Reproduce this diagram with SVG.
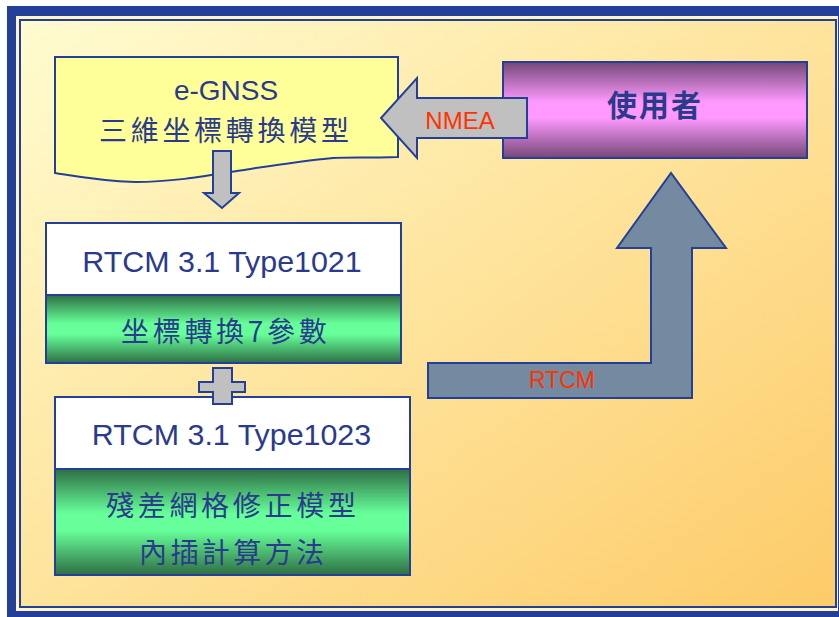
<svg xmlns="http://www.w3.org/2000/svg" width="839" height="617" viewBox="0 0 839 617">
<defs>
<linearGradient id="bg" x1="0" y1="0" x2="1" y2="1">
<stop offset="0" stop-color="#fffcd0"/>
<stop offset="1" stop-color="#fdcb68"/>
</linearGradient>
<linearGradient id="purple" x1="0" y1="0" x2="0" y2="1">
<stop offset="0" stop-color="#744878"/>
<stop offset="0.42" stop-color="#ff99ff"/>
<stop offset="0.58" stop-color="#ff99ff"/>
<stop offset="1" stop-color="#744878"/>
</linearGradient>
<linearGradient id="green" x1="0" y1="0" x2="0" y2="1">
<stop offset="0" stop-color="#2e6e44"/>
<stop offset="0.42" stop-color="#66ff99"/>
<stop offset="0.58" stop-color="#66ff99"/>
<stop offset="1" stop-color="#2e6e44"/>
</linearGradient>
<style>
.sh{stroke:#233f99;stroke-width:2;stroke-linejoin:miter}
.lat{font-family:"Liberation Sans",Arial,sans-serif;fill:#2a3a8c}
.cjk{font-family:"Noto Sans CJK TC","Noto Sans CJK SC",sans-serif;fill:#2a3a8c}
.red{font-family:"Liberation Sans",Arial,sans-serif;fill:#ff3300}
</style>
</defs>
<g id="frame">
<rect x="7" y="6" width="840" height="620" fill="#233f99"/>
<rect x="16" y="16" width="822" height="595" fill="#fff5c0"/>
<rect x="20" y="20" width="816" height="587" fill="url(#bg)" stroke="#233f99" stroke-width="2"/>
</g>
<g id="egnss">
<path class="sh" fill="#ffff99" d="M55,57 H398 V157 C365,158 350,157 333,158 C300,161 270,166 230,172 C200,177 170,182 135,182 C100,181 80,177 55,173 Z"/>
<text class="lat" x="226" y="100" font-size="28" text-anchor="middle">e-GNSS</text>
<text class="cjk" x="99" y="141" font-size="28" letter-spacing="3.7">三維坐標轉換模型</text>
</g>
<g id="user">
<rect class="sh" x="503" y="62" width="304" height="96" fill="url(#purple)"/>
<text class="cjk" x="607" y="116" font-size="30" font-weight="bold" letter-spacing="2">使用者</text>
</g>
<g id="type1021">
<rect class="sh" x="46" y="223" width="355" height="72" fill="#ffffff"/>
<rect class="sh" x="46" y="295" width="355" height="68" fill="url(#green)"/>
<text class="lat" x="222" y="272" font-size="30.4" text-anchor="middle">RTCM 3.1 Type1021</text>
<text class="cjk" x="121" y="342" font-size="28" letter-spacing="3.7">坐標轉換7參數</text>
</g>
<g id="type1023">
<rect class="sh" x="55" y="397" width="355" height="72" fill="#ffffff"/>
<rect class="sh" x="55" y="469" width="355" height="106" fill="url(#green)"/>
<text class="lat" x="231.5" y="445" font-size="30.4" text-anchor="middle">RTCM 3.1 Type1023</text>
<text class="cjk" x="106" y="516" font-size="28" letter-spacing="3.7">殘差網格修正模型</text>
<text class="cjk" x="139" y="563" font-size="28" letter-spacing="3.4">內插計算方法</text>
</g>
<g id="connectors">
<path class="sh" fill="#c0c0c0" d="M213,151 H231 V193 H239 L222,208 L204,193 H213 Z"/>
<path class="sh" fill="#c0c0c0" d="M527,98 V138 H417 V158 L381,118 L417,78 V98 Z"/>
<text class="red" x="460" y="129" font-size="24" text-anchor="middle">NMEA</text>
<path class="sh" fill="#c0c0c0" d="M213,368 H232 V382 H245 V392 H232 V404 H213 V392 H199 V382 H213 Z"/>
<path class="sh" fill="#738aa0" d="M428,363 H651 V248 H617 L671,173 L726,248 H692 V398 H428 Z"/>
<text class="red" x="562" y="388" font-size="23" text-anchor="middle">RTCM</text>
</g>
</svg>
